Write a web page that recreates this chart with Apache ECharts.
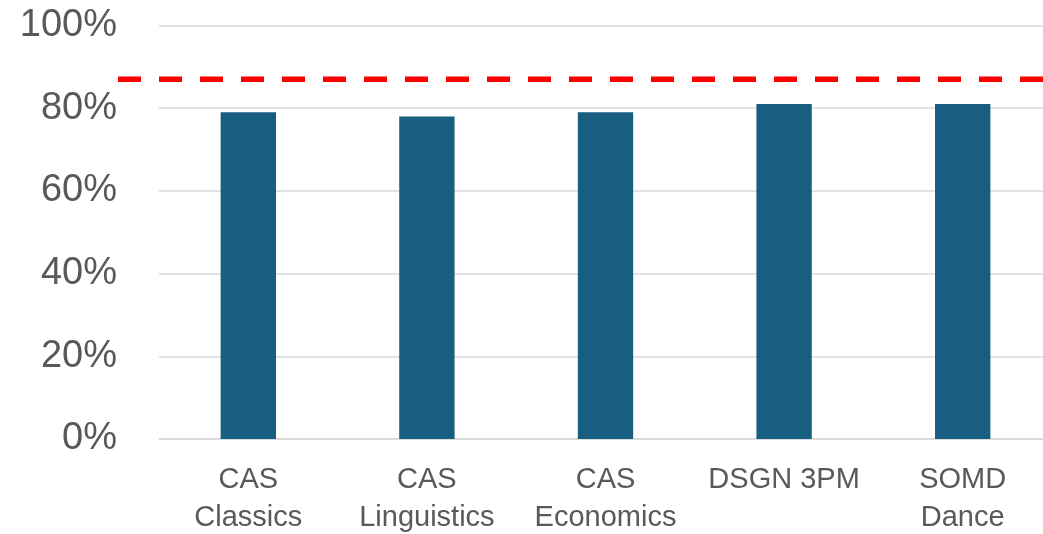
<!DOCTYPE html>
<html>
<head>
<meta charset="utf-8">
<script src="https://cdn.jsdelivr.net/npm/echarts@6/dist/echarts.min.js"></script>
<style>
  html, body { margin: 0; padding: 0; background: #fff; }
  #chart { width: 1043px; height: 534px; }
</style>
</head>
<body>
<div id="chart"></div>
<script>
// Programme names on the category axis
const categories = ['CAS\nClassics', 'CAS\nLinguistics', 'CAS\nEconomics', 'DSGN 3PM', 'SOMD\nDance'];
// Share for each programme (fraction of 1)
const shares = [0.79, 0.78, 0.79, 0.81, 0.81];
// Target level shown as the dashed red line
const target = 0.87;
// Value axis ticks
const yTicks = [0, 0.2, 0.4, 0.6, 0.8, 1.0];

const FONT = 'Liberation Sans, Arial, sans-serif';
const chart = echarts.init(document.getElementById('chart'), null, { renderer: 'canvas' });

const gridTop = 25.5, gridBottom = 95;

chart.setOption({
  animation: false,
  grid: [
    { left: 159, width: 893, top: gridTop, bottom: gridBottom, outerBoundsMode: 'none', containLabel: false },
    { left: 118, right: 0, top: gridTop, bottom: gridBottom, outerBoundsMode: 'none', containLabel: false }
  ],
  xAxis: [
    {
      type: 'category',
      gridIndex: 0,
      data: categories,
      axisTick: { show: false },
      axisLine: { lineStyle: { color: '#d9d9d9', width: 1.5 } },
      axisLabel: {
        color: '#595959',
        fontFamily: FONT,
        fontSize: 29,
        lineHeight: 38,
        margin: 22,
        interval: 0
      }
    },
    { type: 'value', gridIndex: 1, min: 0, max: 1, show: false }
  ],
  yAxis: [
    {
      type: 'value',
      gridIndex: 0,
      min: yTicks[0],
      max: yTicks[yTicks.length - 1],
      interval: yTicks[1] - yTicks[0],
      axisLine: { show: false },
      axisTick: { show: false },
      splitLine: { lineStyle: { color: '#d9d9d9', width: 1.5 } },
      axisLabel: {
        color: '#595959',
        fontFamily: FONT,
        fontSize: 38,
        margin: 42,
        formatter: v => Math.round(v * 100) + '%'
      }
    },
    { type: 'value', gridIndex: 1, min: yTicks[0], max: yTicks[yTicks.length - 1], show: false }
  ],
  series: [
    {
      type: 'bar',
      xAxisIndex: 0,
      yAxisIndex: 0,
      data: shares,
      barWidth: '31%',
      itemStyle: { color: '#175e81' }
    },
    {
      type: 'line',
      xAxisIndex: 1,
      yAxisIndex: 1,
      data: [[0, target], [1, target]],
      symbol: 'none',
      clip: false,
      lineStyle: { color: '#ff0000', width: 5.5, type: [23, 18], cap: 'butt' }
    }
  ]
});
</script>
</body>
</html>
